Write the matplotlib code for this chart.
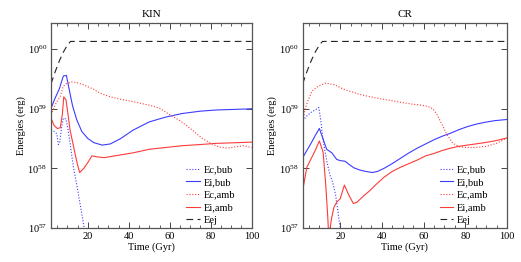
import numpy as np
from matplotlib import pyplot, ticker

pyplot.rcParams['font.family'] = ['Liberation Serif', 'DejaVu Serif']
pyplot.rcParams['mathtext.fontset'] = 'stix'
pyplot.rcParams['mathtext.default'] = 'regular'

# energies stored as log10(E / erg), time in Gyr
# ---- KIN panel ----
kin_ecbub_t = [2, 3.5, 4.8, 5.6, 6.3, 7.2, 8, 9.3, 10.3, 11.3, 12.9, 15.3, 17.8, 19]
kin_ecbub_e = [58.65, 58.62, 58.58, 58.40, 58.45, 58.70, 58.84, 58.83, 58.65, 58.42, 58.03, 57.58, 57.08, 56.8]

kin_eibub_t = [2, 4, 6, 8, 9.5, 11, 12.5, 14.5, 17, 20, 23, 27, 31, 36, 42, 50, 58, 66, 75, 83, 92, 100]
kin_eibub_e = [59.01, 59.18, 59.33, 59.55, 59.56, 59.30, 59.05, 58.82, 58.62, 58.50, 58.43, 58.39,
               58.41, 58.50, 58.64, 58.78, 58.86, 58.92, 58.96, 58.98, 58.99, 59.00]

kin_ecamb_t = [2, 3, 4.5, 6.4, 8, 9.5, 12, 14.5, 18, 22.6, 26, 31, 36, 42, 50, 55, 60, 65, 70, 76,
               80, 84, 88, 92, 96, 100]
kin_ecamb_e = [58.90, 58.98, 59.10, 59.20, 59.38, 59.42, 59.45, 59.44, 59.40, 59.33, 59.26, 59.20,
               59.16, 59.12, 59.06, 59.01, 58.90, 58.80, 58.67, 58.50, 58.42, 58.36, 58.34, 58.36,
               58.38, 58.35]

kin_eiamb_t = [2, 3.5, 5, 6.5, 7.5, 8.2, 9.3, 10.3, 11.3, 12.5, 13.7, 15, 16, 18, 20, 22, 25, 28,
               35, 42, 50, 58, 66, 75, 83, 92, 100]
kin_eiamb_e = [58.84, 58.72, 58.67, 58.68, 58.90, 59.20, 59.15, 58.90, 58.64, 58.45, 58.25, 58.05,
               57.93, 58.00, 58.10, 58.21, 58.19, 58.18, 58.22, 58.26, 58.32, 58.35, 58.38, 58.40,
               58.42, 58.43, 58.44]

# ---- CR panel ----
cr_ecbub_t = [2, 4, 6, 8, 9.7, 10.5, 11.5, 12.5, 13.7, 15, 16.5, 17.8, 19, 20.2]
cr_ecbub_e = [58.80, 58.88, 58.94, 58.98, 59.02, 58.85, 58.55, 58.32, 58.10, 57.90, 57.75, 57.55,
              57.25, 56.95]

cr_eibub_t = [2, 4, 6, 8, 10, 11.5, 13.5, 16, 18.3, 20, 22.3, 24.5, 26.5, 29.5, 32, 35.5, 38, 41,
              45, 49, 53, 57, 61, 65, 69, 73, 77, 81, 85, 89, 94, 100]
cr_eibub_e = [58.18, 58.30, 58.42, 58.55, 58.67, 58.52, 58.32, 58.26, 58.15, 58.13, 58.12, 58.06,
              58.01, 57.97, 57.95, 57.93, 57.95, 58.00, 58.08, 58.17, 58.26, 58.34, 58.41, 58.48,
              58.54, 58.59, 58.65, 58.70, 58.74, 58.77, 58.80, 58.82]

cr_ecamb_t = [2, 3, 4.5, 6.5, 9.5, 13, 17.5, 21.5, 25, 29.5, 34.5, 39, 44, 49, 54, 59, 62, 64.5,
              66.5, 68.5, 71, 74, 77.5, 81, 85, 90, 95, 100]
cr_ecamb_e = [58.75, 58.98, 59.13, 59.30, 59.38, 59.43, 59.40, 59.33, 59.29, 59.24, 59.20, 59.17,
              59.14, 59.11, 59.08, 59.06, 59.04, 59.00, 58.90, 58.76, 58.58, 58.42, 58.36, 58.35,
              58.35, 58.37, 58.42, 58.51]

cr_eiamb_t = [2, 4, 6.3, 8, 10, 11.8, 13, 14, 14.5, 15.9, 17, 18.5, 20, 22, 24, 26.3, 28, 31, 34,
              37.5, 41, 45, 49, 53, 57, 61, 65, 69, 73, 77, 81, 85, 89, 94, 100]
cr_eiamb_e = [57.63, 58.02, 58.18, 58.30, 58.46, 58.27, 57.75, 57.20, 56.85, 57.17, 57.35, 57.44,
              57.49, 57.72, 57.56, 57.41, 57.43, 57.53, 57.62, 57.74, 57.85, 57.95, 58.02, 58.08,
              58.14, 58.21, 58.25, 58.30, 58.34, 58.37, 58.39, 58.41, 58.43, 58.46, 58.51]

# ejecta energy, same in both runs
eej_t = [2, 4, 6, 8, 10, 11.5, 100]
eej_e = [59.42, 59.62, 59.80, 59.95, 60.07, 60.13, 60.13]

panels = {
    "KIN": [(kin_ecbub_t, kin_ecbub_e), (kin_eibub_t, kin_eibub_e),
            (kin_ecamb_t, kin_ecamb_e), (kin_eiamb_t, kin_eiamb_e), (eej_t, eej_e)],
    "CR": [(cr_ecbub_t, cr_ecbub_e), (cr_eibub_t, cr_eibub_e),
           (cr_ecamb_t, cr_ecamb_e), (cr_eiamb_t, cr_eiamb_e), (eej_t, eej_e)],
}
labels = ["Ec,bub", "Ei,bub", "Ec,amb", "Ei,amb", "Eej"]

blue, red, black = "#3c3cff", "#ff3a3a", "#222222"
styles = [
    dict(color=blue, ls=(0, (1, 1.6))),
    dict(color=blue, ls="-"),
    dict(color=red, ls=(0, (1, 1.6))),
    dict(color=red, ls="-"),
    dict(color=black, ls=(0, (6, 4))),
]

fig = pyplot.figure(figsize=(5.21, 2.62), dpi=100)
ax_rects = [[0.098, 0.130, 0.385, 0.784], [0.581, 0.130, 0.392, 0.784]]
legend_x = [0.675, 0.670]

for rect, (title, curves), lx in zip(ax_rects, panels.items(), legend_x):
    ax = fig.add_axes(rect)
    for (t, e), lab, st in zip(curves, labels, styles):
        ax.plot(t, 10**np.array(e), lw=0.8, label=lab, **st)

    ax.set_yscale("log")
    ax.set_xlim(2, 100)
    ax.set_ylim(1e57, 2.8e60)
    ax.xaxis.set_major_locator(ticker.MultipleLocator(20))
    ax.xaxis.set_minor_locator(ticker.MultipleLocator(5))
    ax.yaxis.set_major_locator(ticker.LogLocator(base=10, numticks=10))
    ax.yaxis.set_minor_locator(ticker.NullLocator())
    ax.tick_params(which="both", direction="in", top=True, right=True,
                   labelsize=7.5, color="#444444", pad=3)
    ax.tick_params(which="major", length=4.5, width=0.7)
    ax.tick_params(which="minor", length=2.5, width=0.6)
    for sp in ax.spines.values():
        sp.set_color("#555555")
        sp.set_linewidth(0.9)

    ax.set_title(title, fontsize=8, pad=4)
    ax.set_xlabel("Time (Gyr)", fontsize=7.5, labelpad=1)
    ax.set_ylabel("Energies (erg)", fontsize=7.5)
    ax.yaxis.set_label_coords(-0.126, 0.5)

    ax.legend(loc="lower left", bbox_to_anchor=(lx, 0.015), frameon=False, fontsize=7.5,
              handlelength=1.3, handletextpad=0.4, labelspacing=0.32,
              borderpad=0, borderaxespad=0)

pyplot.savefig("out.png", dpi=100)
